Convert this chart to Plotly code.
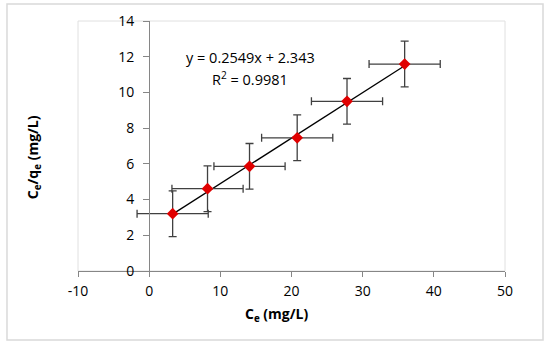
import plotly.graph_objects as go

# Data
ce = [3.3, 8.2, 14.1, 20.8, 27.8, 35.9]          # Ce (mg/L)
ce_qe = [3.21, 4.61, 5.86, 7.46, 9.50, 11.59]    # Ce/qe (mg/L)
x_err = [5, 5, 5, 5, 5, 5]
y_err = [1.28, 1.28, 1.28, 1.28, 1.28, 1.28]
slope = 0.2549
intercept = 2.343
x_ticks = [-10, 0, 10, 20, 30, 40, 50]
x_tick_text = ["-10", "0", "10", "20", "30", "40", "50"]
y_ticks = [0, 2, 4, 6, 8, 10, 12, 14]

FONT = "Open Sans"
FS = 14
GRAY = "#868686"

fig = go.Figure()

# Trendline over data range
fit_x = [min(ce), max(ce)]
fit_y = [slope * v + intercept for v in fit_x]
fig.add_trace(go.Scatter(x=fit_x, y=fit_y, mode="lines",
                         line=dict(color="black", width=1.3),
                         showlegend=False, hoverinfo="skip"))

fig.add_trace(go.Scatter(
    x=ce, y=ce_qe, mode="markers",
    marker=dict(symbol="diamond", size=9, color="#E00000"),
    error_x=dict(type="data", array=x_err, visible=True, color="#404040", thickness=1.3, width=4),
    error_y=dict(type="data", array=y_err, visible=True, color="#404040", thickness=1.3, width=4),
    showlegend=False))

fig.update_layout(
    width=550, height=347,
    margin=dict(l=78, r=45, t=21, b=76),
    paper_bgcolor="white", plot_bgcolor="white",
    font=dict(family=FONT, size=FS, color="black"),
    xaxis=dict(range=[-10, 50], tickvals=x_ticks, ticktext=x_tick_text,
               showgrid=False, zeroline=False,
               showline=True, linecolor=GRAY, linewidth=1.3,
               ticks="outside", ticklen=5, tickcolor=GRAY, tickwidth=1.3,
               ticklabelstandoff=2,
               tickfont=dict(family=FONT, size=FS)),
    yaxis=dict(range=[0, 14], tickvals=y_ticks, showgrid=False, zeroline=False,
               anchor="free", position=10 / 60,
               showline=True, linecolor=GRAY, linewidth=1.3,
               ticks="outside", ticklen=6, tickcolor=GRAY, tickwidth=1.3,
               ticklabelstandoff=6,
               tickfont=dict(family=FONT, size=FS)),
    shapes=[
        dict(type="rect", xref="x domain", yref="y domain", x0=0, x1=1, y0=0, y1=1,
             line=dict(color="#E0E0E0", width=1), layer="below"),
        dict(type="rect", xref="paper", yref="paper", x0=-0.1663, x1=1.089, y0=-0.276, y1=1.068,
             line=dict(color="#D9D9D9", width=1.5), layer="below"),
    ],
    annotations=[
        dict(x=14.2, y=11.93, xref="x", yref="y", text="y = 0.2549x + 2.343",
             showarrow=False, xanchor="center", yanchor="middle",
             font=dict(family=FONT, size=14.5)),
        dict(x=14.2, y=10.8, xref="x", yref="y", text="R<sup>2</sup> = 0.9981",
             showarrow=False, xanchor="center", yanchor="middle",
             font=dict(family=FONT, size=14.5)),
        dict(x=0.466, y=-0.172, xref="paper", yref="paper",
             text="<b>C<sub>e</sub> (mg/L)</b>", showarrow=False,
             xanchor="center", yanchor="middle",
             font=dict(family=FONT, size=FS)),
        dict(x=-0.105, y=0.456, xref="paper", yref="paper", textangle=-90,
             text="<b>C<sub>e</sub>/q<sub>e</sub> (mg/L)</b>", showarrow=False,
             xanchor="center", yanchor="middle",
             font=dict(family=FONT, size=FS)),
    ],
)

fig.write_html("out.html", config={"displayModeBar": False},
               post_script="document.body.style.margin='0';")
